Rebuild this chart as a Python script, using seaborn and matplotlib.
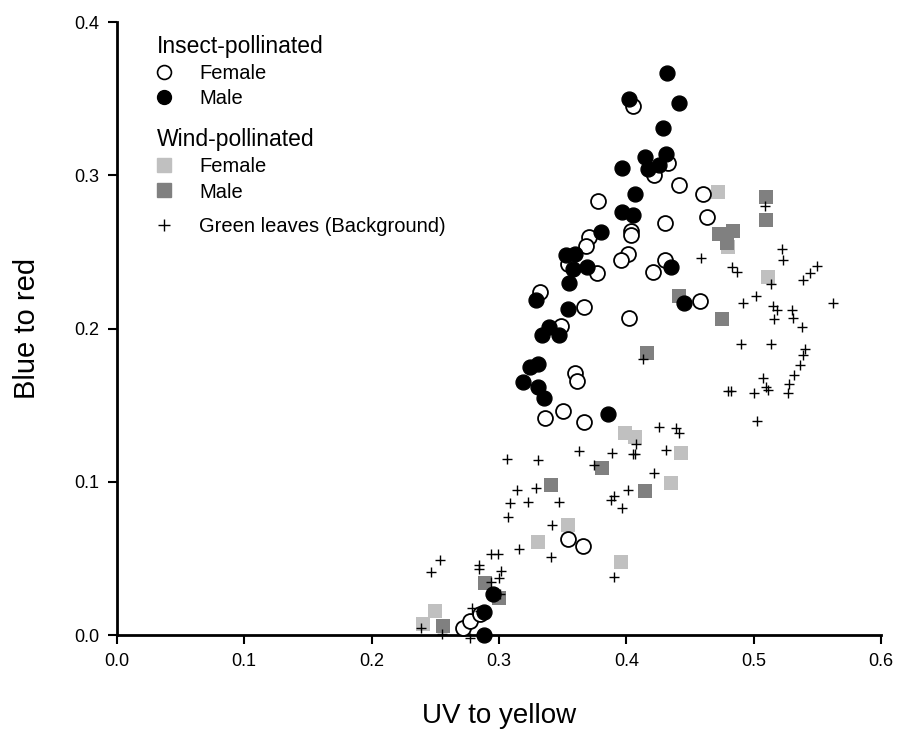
import matplotlib
matplotlib.use("Agg")
import matplotlib.pyplot as plt
from matplotlib.lines import Line2D
import seaborn as sns
import pandas as pd

# ---- data ----
ins_f_x = [0.405, 0.422, 0.433, 0.441, 0.460, 0.378, 0.463, 0.430, 0.404, 0.404, 0.371, 0.368,
           0.401, 0.396, 0.354, 0.377, 0.430, 0.421, 0.332, 0.349, 0.367, 0.402, 0.458, 0.360,
           0.361, 0.336, 0.350, 0.367, 0.354, 0.366, 0.272, 0.277, 0.285]
ins_f_y = [0.345, 0.300, 0.308, 0.294, 0.288, 0.283, 0.273, 0.269, 0.264, 0.261, 0.260, 0.254,
           0.249, 0.245, 0.242, 0.236, 0.245, 0.237, 0.224, 0.202, 0.214, 0.207, 0.218, 0.171,
           0.166, 0.142, 0.146, 0.139, 0.063, 0.058, 0.005, 0.009, 0.014]

ins_m_x = [0.432, 0.402, 0.441, 0.429, 0.415, 0.431, 0.417, 0.426, 0.397, 0.407, 0.397, 0.405,
           0.380, 0.353, 0.360, 0.358, 0.369, 0.355, 0.329, 0.354, 0.339, 0.334, 0.347, 0.331,
           0.324, 0.319, 0.331, 0.335, 0.386, 0.435, 0.445, 0.295, 0.288, 0.288]
ins_m_y = [0.367, 0.350, 0.347, 0.331, 0.312, 0.314, 0.304, 0.307, 0.305, 0.288, 0.276, 0.274,
           0.263, 0.248, 0.249, 0.239, 0.240, 0.230, 0.219, 0.213, 0.201, 0.196, 0.196, 0.177,
           0.175, 0.165, 0.162, 0.155, 0.144, 0.240, 0.217, 0.027, 0.015, 0.000]

wind_f_x = [0.472, 0.480, 0.511, 0.399, 0.407, 0.443, 0.435, 0.354, 0.331, 0.396, 0.250, 0.240]
wind_f_y = [0.289, 0.253, 0.234, 0.132, 0.129, 0.119, 0.099, 0.072, 0.061, 0.048, 0.016, 0.007]

wind_m_x = [0.510, 0.510, 0.473, 0.484, 0.479, 0.441, 0.475, 0.416, 0.381, 0.341, 0.415, 0.289,
            0.300, 0.256]
wind_m_y = [0.286, 0.271, 0.262, 0.264, 0.256, 0.221, 0.206, 0.184, 0.109, 0.098, 0.094, 0.034,
            0.024, 0.006]

leaf_x = [0.509, 0.459, 0.483, 0.487, 0.522, 0.523, 0.550, 0.544, 0.539, 0.514, 0.502, 0.492,
          0.515, 0.518, 0.530, 0.531, 0.516, 0.538, 0.562, 0.490, 0.514, 0.540, 0.539, 0.536,
          0.532, 0.507, 0.510, 0.511, 0.528, 0.527, 0.482, 0.480, 0.500, 0.503, 0.413,
          0.426, 0.439, 0.441, 0.408, 0.405, 0.407, 0.431, 0.389, 0.363, 0.375, 0.422, 0.401,
          0.390, 0.388, 0.397, 0.390,
          0.306, 0.331, 0.329, 0.314, 0.309, 0.323, 0.347, 0.307, 0.342, 0.316, 0.341, 0.254,
          0.247, 0.284, 0.284, 0.294, 0.299, 0.302, 0.300, 0.294, 0.301, 0.279, 0.285, 0.255,
          0.239, 0.277]
leaf_y = [0.280, 0.246, 0.240, 0.237, 0.252, 0.245, 0.241, 0.236, 0.232, 0.229, 0.221, 0.217,
          0.215, 0.212, 0.212, 0.207, 0.206, 0.201, 0.217, 0.190, 0.190, 0.187, 0.183, 0.176,
          0.170, 0.168, 0.162, 0.160, 0.164, 0.158, 0.159, 0.159, 0.158, 0.140, 0.180,
          0.136, 0.135, 0.132, 0.125, 0.118, 0.118, 0.121, 0.119, 0.120, 0.111, 0.106, 0.095,
          0.091, 0.088, 0.083, 0.038,
          0.115, 0.114, 0.096, 0.095, 0.086, 0.087, 0.087, 0.077, 0.072, 0.056, 0.051, 0.049,
          0.041, 0.046, 0.043, 0.053, 0.053, 0.042, 0.037, 0.035, 0.027, 0.018, 0.016, 0.001,
          0.005, -0.002]

x_ticks = [0.0, 0.1, 0.2, 0.3, 0.4, 0.5, 0.6]
y_ticks = [0.0, 0.1, 0.2, 0.3, 0.4]

sns.set_style("white")
plt.rcParams['font.family'] = ['Liberation Sans', 'DejaVu Sans']
plt.rcParams['text.color'] = 'black'
plt.rcParams['axes.labelcolor'] = 'black'

fig = plt.figure(figsize=(8.99, 7.36), dpi=100)
ax = fig.add_axes([0.130, 0.137, 0.850, 0.833])

LIGHT = "#c0c0c0"
DARK = "#808080"

def df(x, y):
    return pd.DataFrame({"x": x, "y": y})

common = dict(ax=ax, legend=False, clip_on=False)
sns.scatterplot(data=df(wind_f_x, wind_f_y), x="x", y="y", marker="s", s=115,
                color=LIGHT, edgecolor=LIGHT, linewidth=0, zorder=3, **common)
sns.scatterplot(data=df(wind_m_x, wind_m_y), x="x", y="y", marker="s", s=115,
                color=DARK, edgecolor=DARK, linewidth=0, zorder=3, **common)
sns.scatterplot(data=df(ins_f_x, ins_f_y), x="x", y="y", marker="o", s=115,
                facecolor="white", edgecolor="black", linewidth=1.3, zorder=4, **common)
sns.scatterplot(data=df(ins_m_x, ins_m_y), x="x", y="y", marker="o", s=115,
                color="black", edgecolor="black", linewidth=1.0, zorder=5, **common)
sns.scatterplot(data=df(leaf_x, leaf_y), x="x", y="y", marker="+", s=55,
                color="black", linewidth=1.0, zorder=6, **common)

ax.set_xlim(0, 0.6)
ax.set_ylim(0, 0.4)
ax.set_xticks(x_ticks)
ax.set_yticks(y_ticks)
ax.set_xticklabels([f"{v:.1f}" for v in x_ticks])
ax.set_yticklabels([f"{v:.1f}" for v in y_ticks])
for s in ["top", "right"]:
    ax.spines[s].set_visible(False)
for s in ["left", "bottom"]:
    ax.spines[s].set_linewidth(2.0)
    ax.spines[s].set_color("black")
ax.tick_params(axis="both", direction="out", length=6.5, width=1.5, labelsize=13,
               colors="black", left=True, bottom=True, pad=6)
ax.set_xlabel("UV to yellow", fontsize=20, labelpad=24)
ax.set_ylabel("Blue to red", fontsize=21, labelpad=24)

leg_kw = dict(loc="upper left", frameon=False, fontsize=14.5, title_fontsize=16.5,
              alignment="left", handlelength=0.7, handletextpad=1.4,
              labelspacing=0.3, borderaxespad=0, borderpad=0)

h1 = [Line2D([], [], marker="o", ls="", ms=10, mfc="white", mec="black", mew=1.2),
      Line2D([], [], marker="o", ls="", ms=10, mfc="black", mec="black")]
leg1 = ax.legend(h1, ["Female", "Male"], title="Insect-pollinated",
                 bbox_to_anchor=(0.052, 0.9785), **leg_kw)
ax.add_artist(leg1)
h2 = [Line2D([], [], marker="s", ls="", ms=10, mfc=LIGHT, mec=LIGHT),
      Line2D([], [], marker="s", ls="", ms=10, mfc=DARK, mec=DARK)]
leg2 = ax.legend(h2, ["Female", "Male"], title="Wind-pollinated",
                 bbox_to_anchor=(0.052, 0.8265), **leg_kw)
ax.add_artist(leg2)
h3 = [Line2D([], [], marker="+", ls="", ms=8, mec="black", mew=1.0)]
leg3 = ax.legend(h3, ["Green leaves (Background)"], bbox_to_anchor=(0.052, 0.6815), **leg_kw)

fig.savefig("out.png", dpi=100)
